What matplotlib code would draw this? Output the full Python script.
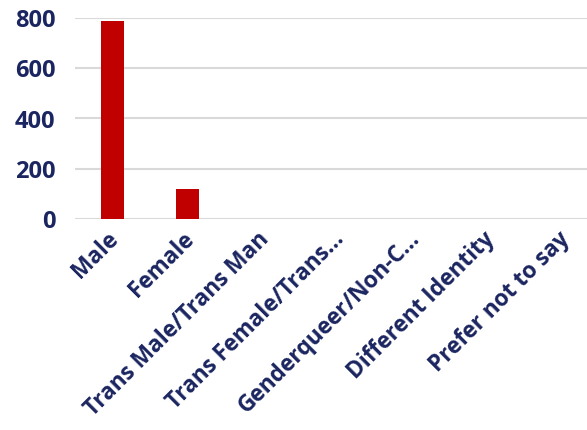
import matplotlib.pyplot as plt
import matplotlib.transforms as mtransforms
import numpy as np

# gender breakdown of respondents
categories = ['Male', 'Female', 'Trans Male/Trans Man', 'Trans Female/Trans…',
              'Genderqueer/Non-C…', 'Different Identity', 'Prefer not to say']
counts = [789, 120, 0, 0, 0, 0, 0]
y_ticks = [0, 200, 400, 600, 800]

navy = '#1B2560'
red = '#C00000'
grid = '#D9D9D9'

plt.rcParams['font.family'] = ['Open Sans', 'DejaVu Sans']
plt.rcParams['font.weight'] = 'bold'

W, H = 587, 430
fig = plt.figure(figsize=(W / 100, H / 100), dpi=100)
# plot area runs a little past the right edge of the canvas
ax = fig.add_axes([74.7 / W, 1 - 219 / H, (601 - 74.7) / W, (219 - 18) / H])

x = np.arange(len(categories))
ax.bar(x, counts, width=0.31, color=red, zorder=3)

ax.set_xlim(-0.5, len(categories) - 0.5)
ax.set_ylim(0, 800)
ax.set_yticks(y_ticks)
ax.set_yticklabels([str(t) for t in y_ticks])
ax.yaxis.grid(True, color=grid, linewidth=1.5, zorder=0)
ax.set_axisbelow(True)
for s in ax.spines.values():
    s.set_visible(False)
ax.tick_params(axis='both', length=0, colors=navy, labelsize=17)
ax.tick_params(axis='y', pad=14)
ax.set_xticks(x)
ax.set_xticklabels(categories, rotation=45, ha='right', va='center',
                   rotation_mode='anchor', color=navy, fontsize=16.3)
ax.tick_params(axis='x', pad=12)

# nudge the slanted labels slightly right
shift = mtransforms.ScaledTranslation(3 / 100, 0, fig.dpi_scale_trans)
for lbl in ax.get_xticklabels():
    lbl.set_transform(lbl.get_transform() + shift)

fig.savefig('out.png', dpi=100)
